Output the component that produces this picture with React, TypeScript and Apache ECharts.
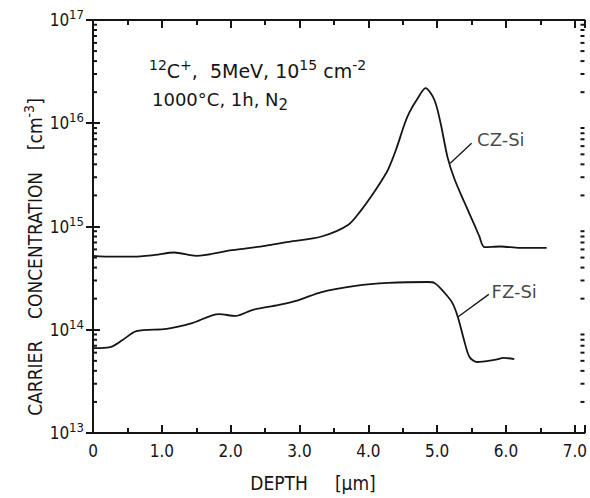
import React, { useEffect, useRef } from 'react';
import * as echarts from 'echarts';

// CZ-Si carrier concentration profile (depth in µm, concentration in cm^-3)
const depthCZ = [0, 0.3, 0.58, 0.9, 1.18, 1.5, 2.02, 2.5, 2.84, 3.32, 3.71, 3.9, 4.04, 4.18, 4.29, 4.4, 4.53, 4.6, 4.72, 4.83, 4.96, 5.05, 5.15, 5.25, 5.4, 5.53, 5.61, 5.69, 5.92, 6.2, 6.59];
const concCZ = [5.2e14, 5.1e14, 5.1e14, 5.3e14, 5.6e14, 5.2e14, 5.9e14, 6.5e14, 7.1e14, 8.0e14, 1.04e15, 1.45e15, 1.95e15, 2.7e15, 3.6e15, 5.5e15, 1.0e16, 1.29e16, 1.76e16, 2.19e16, 1.68e16, 1.0e16, 4.7e15, 2.9e15, 1.69e15, 1.08e15, 8.1e14, 6.3e14, 6.4e14, 6.2e14, 6.2e14];

// FZ-Si carrier concentration profile
const depthFZ = [0, 0.25, 0.43, 0.63, 1.07, 1.44, 1.83, 2.07, 2.31, 2.7, 2.99, 3.32, 3.81, 4.29, 4.86, 4.96, 5.11, 5.22, 5.3, 5.39, 5.47, 5.58, 5.83, 5.97, 6.12];
const concFZ = [6.65e13, 6.8e13, 7.96e13, 9.7e13, 1.02e14, 1.16e14, 1.42e14, 1.36e14, 1.55e14, 1.74e14, 1.94e14, 2.32e14, 2.66e14, 2.84e14, 2.9e14, 2.84e14, 2.27e14, 1.82e14, 1.33e14, 7.96e13, 5.45e13, 4.87e13, 5.1e13, 5.33e13, 5.2e13];

// axis ranges and tick values
const xMin = 0;
const xMax = 7.14;
const yMin = 1e13;
const yMax = 1e17;
const minorMantissas = [2, 3, 4, 5, 6, 7, 8, 9];
const decades = [1e13, 1e14, 1e15, 1e16];

// annotation anchor points (data space)
const labelCZ = [5.58, 6.9e15];
const leaderCZ = [[5.19, 4.1e15], [5.5, 6.4e15]];
const labelFZ = [5.79, 2.35e14];
const leaderFZ = [[5.3, 1.33e14], [5.75, 2.2e14]];

const FONT = "'DejaVu Sans Condensed', 'DejaVu Sans', sans-serif";
const FONT2 = "'DejaVu Sans', sans-serif";
const INK = '#151515';

export default function App() {
  const ref = useRef<HTMLDivElement>(null);
  useEffect(() => {
    if (!ref.current) return;
    const chart = echarts.init(ref.current, null, { renderer: 'svg' });

    const yMinorData: number[][] = [];
    decades.forEach((d) => minorMantissas.forEach((m) => yMinorData.push([xMin, d * m])));

    const mkX = (pos: string, withLabels: boolean) => ({
      type: 'value',
      min: xMin,
      max: xMax,
      interval: 1,
      position: pos,
      splitLine: { show: false },
      axisLine: { show: true, lineStyle: { color: INK, width: 2 } },
      axisTick: { show: true, inside: true, length: 8, lineStyle: { color: INK, width: 2 } },
      minorTick: { show: true, splitNumber: 2, length: 5, lineStyle: { color: INK, width: 2 } },
      axisLabel: withLabels
        ? {
            show: true,
            showMaxLabel: false,
            margin: 9,
            color: INK,
            fontFamily: FONT,
            fontSize: 17,
            formatter: (v: number) => (v === 0 ? '0' : v.toFixed(1)),
          }
        : { show: false },
    });
    const mkY = (pos: string, withLabels: boolean) => ({
      type: 'log',
      logBase: 10,
      min: yMin,
      max: yMax,
      position: pos,
      splitLine: { show: false },
      axisLine: { show: true, lineStyle: { color: INK, width: 2 } },
      axisTick: { show: true, inside: true, length: 7, lineStyle: { color: INK, width: 2 } },
      axisLabel: withLabels
        ? {
            show: true,
            margin: 9,
            color: INK,
            fontFamily: FONT,
            formatter: (v: number) => '{b|10}{s|' + Math.round(Math.log10(v)) + '}',
            rich: {
              b: { fontSize: 17, lineHeight: 24, fontFamily: FONT, color: INK },
              s: { fontSize: 13, lineHeight: 13, verticalAlign: 'top', fontFamily: FONT, color: INK },
            },
          }
        : { show: false },
    });

    chart.setOption({
      animation: false,
      backgroundColor: '#ffffff',
      grid: { left: 93, right: 2, top: 20, bottom: 65 },
      xAxis: [mkX('bottom', true), mkX('top', false)],
      yAxis: [mkY('left', true), mkY('right', false)],
      series: [
        {
          name: 'CZ-Si',
          type: 'line',
          data: depthCZ.map((d, i) => [d, concCZ[i]]),
          smooth: 0.3,
          symbol: 'none',
          lineStyle: { color: INK, width: 1.8 },
        },
        {
          name: 'FZ-Si',
          type: 'line',
          data: depthFZ.map((d, i) => [d, concFZ[i]]),
          smooth: 0.3,
          symbol: 'none',
          lineStyle: { color: INK, width: 1.8 },
        },
        {
          name: 'leaders',
          type: 'line',
          data: [],
          markLine: {
            silent: true,
            symbol: 'none',
            label: { show: false },
            lineStyle: { color: INK, width: 1.3, type: 'solid' },
            data: [
              [{ coord: leaderCZ[0] }, { coord: leaderCZ[1] }],
              [{ coord: leaderFZ[0] }, { coord: leaderFZ[1] }],
            ],
          },
        },
        {
          name: 'labels',
          type: 'scatter',
          symbolSize: 0,
          data: [
            { value: labelCZ, name: 'CZ-Si' },
            { value: labelFZ, name: 'FZ-Si' },
          ],
          label: {
            show: true,
            position: 'right',
            distance: 0,
            formatter: (p: any) => p.name,
            color: INK,
            fontFamily: FONT2,
            fontSize: 18,
          },
        },
        {
          name: 'yMinorTicks',
          type: 'custom',
          clip: false,
          data: yMinorData,
          renderItem: (params: any, api: any) => {
            const v = api.value(1);
            const pl = api.coord([xMin, v]);
            const pr = api.coord([xMax, v]);
            return {
              type: 'group',
              children: [
                { type: 'line', shape: { x1: pl[0], y1: pl[1], x2: pl[0] + 4, y2: pl[1] }, style: { stroke: INK, lineWidth: 2 } },
                { type: 'line', shape: { x1: pr[0], y1: pr[1], x2: pr[0] - 4, y2: pr[1] }, style: { stroke: INK, lineWidth: 2 } },
              ],
            };
          },
        },
      ],
      graphic: [
        {
          type: 'text',
          left: 149,
          top: 58,
          style: {
            text: '{s|12}{t|C}{s|+}{t|,  5MeV, 10}{s|15}{t| cm}{s|-2}',
            fontFamily: FONT2,
            fill: INK,
            rich: {
              t: { fontSize: 19, lineHeight: 26, fontFamily: FONT2, fill: INK },
              s: { fontSize: 14, lineHeight: 14, verticalAlign: 'top', fontFamily: FONT2, fill: INK },
            },
          },
        },
        {
          type: 'text',
          left: 152,
          top: 90,
          style: {
            text: '{t|1000°C, 1h, N}{u|2}',
            fontFamily: FONT2,
            fill: INK,
            rich: {
              t: { fontSize: 18, lineHeight: 26, fontFamily: FONT2, fill: INK },
              u: { fontSize: 15, lineHeight: 14, verticalAlign: 'bottom', fontFamily: FONT2, fill: INK },
            },
          },
        },
        {
          type: 'text',
          x: 35,
          y: 257,
          rotation: Math.PI / 2,
          style: {
            text: '{t|CARRIER    CONCENTRATION    [cm}{s|-3}{t|]}',
            align: 'center',
            verticalAlign: 'middle',
            fontFamily: FONT,
            fill: INK,
            rich: {
              t: { fontSize: 19, lineHeight: 26, fontFamily: FONT, fill: INK },
              s: { fontSize: 14, lineHeight: 14, verticalAlign: 'top', fontFamily: FONT, fill: INK },
            },
          },
        },
        {
          type: 'text',
          x: 313,
          y: 483,
          style: {
            text: 'DEPTH     [µm]',
            align: 'center',
            verticalAlign: 'middle',
            fontFamily: FONT,
            fontSize: 19,
            fill: INK,
          },
        },
      ],
    });
    return () => chart.dispose();
  }, []);
  return <div ref={ref} style={{ width: 590, height: 498, position: 'fixed', left: 0, top: 0 }} />;
}
